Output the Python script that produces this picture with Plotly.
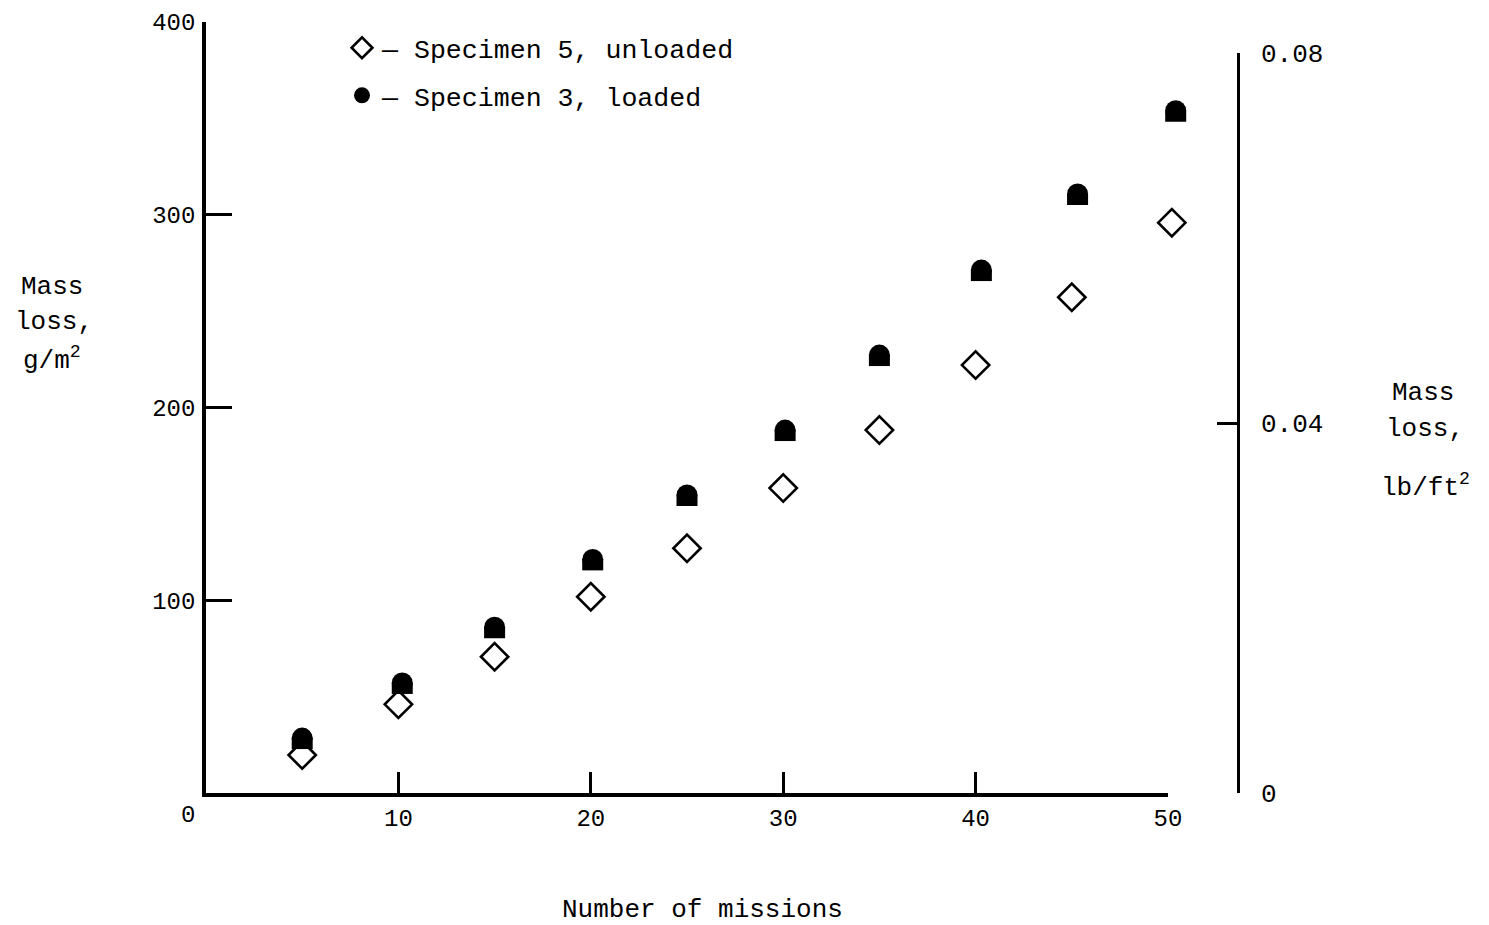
import plotly.graph_objects as go

# ---------------- data ----------------
missions_unloaded = [5, 10, 15, 20, 25, 30, 35, 40, 45, 50.2]
loss_unloaded = [19.7, 46.0, 70.7, 101.8, 127.0, 158.2, 188.3, 222.0, 257.2, 295.9]

missions_loaded = [5, 10.2, 15, 20.1, 25, 30.1, 35, 40.3, 45.3, 50.4]
loss_loaded = [28.5, 57.1, 86.0, 121.2, 154.6, 188.3, 227.2, 271.3, 310.8, 354.0]

x_tickvals = [10, 20, 30, 40, 50]
y_tickvals = [100, 200, 300, 400]
y2_tickvals = [0, 0.04, 0.08]
y2_ticktext = ["0", "0.04", "0.08"]

name_unloaded = "— Specimen 5, unloaded"
name_loaded = "— Specimen 3, loaded"

# ---------------- layout constants (pixels) ----------------
W, H = 1489, 925
PLOT_L, PLOT_R, PLOT_T, PLOT_B = 206, 1238, 22, 793
X50_PX = 1168          # pixel of x = 50 (end of the drawn x-axis)
Y2_TOP_PX = 53         # pixel of the top of the right-hand axis
L, T, R, B = PLOT_L, PLOT_T, W - PLOT_R, H - PLOT_B
PW, PH = W - L - R, H - T - B
FONT = "Liberation Mono, Courier New, monospace"
PX_PER_UNIT = PH / 400.0
DOME_SHIFT = 5.25 / PX_PER_UNIT  # shift of the dome's lower block, in data units
X_DOM = (X50_PX - PLOT_L) / PW
X2_MAX = 51.0


def px_x(px):
    return (px - PLOT_L) / PW


def px_y(py):
    return (PLOT_B - py) / PH


fig = go.Figure()

fig.add_trace(go.Scatter(
    x=missions_unloaded, y=loss_unloaded, mode="markers", name=name_unloaded,
    legendgroup="a", xaxis="x2", yaxis="y",
    marker=dict(symbol="diamond-open", size=21, color="black", line=dict(width=2.6, color="black")),
))
# loaded: dome shaped marker = round top (circle) + flat block underneath
fig.add_trace(go.Scatter(
    x=missions_loaded, y=loss_loaded, mode="markers", name=name_loaded,
    legendgroup="b", xaxis="x2", yaxis="y",
    marker=dict(symbol="circle", size=21, color="black", line=dict(width=0)),
))
fig.add_trace(go.Scatter(
    x=missions_loaded, y=loss_loaded, mode="markers", name=name_loaded,
    legendgroup="b", showlegend=False, xaxis="x2", yaxis="y3",
    marker=dict(symbol="line-ew", size=15, color="black", line=dict(width=11.5, color="black")),
))
# empty traces so the visible axes are drawn
fig.add_trace(go.Scatter(x=[], y=[], xaxis="x", yaxis="y", showlegend=False, hoverinfo="skip"))
fig.add_trace(go.Scatter(x=[], y=[], xaxis="x", yaxis="y2", showlegend=False, hoverinfo="skip"))

axis_font = dict(family=FONT, size=24, color="black")
title_font = dict(family=FONT, size=26, color="black")

annotations = []
for txt, cx, cy in [
    ("Mass", 52, 287), ("loss,", 54, 322), ("g/m<sup>2</sup>", 52, 359),
    ("Mass", 1423, 393), ("loss,", 1425, 429), ("lb/ft<sup>2</sup>", 1425, 486),
    ("Number of missions", 702, 910),
]:
    annotations.append(dict(text=txt, xref="paper", yref="paper", x=px_x(cx), y=px_y(cy),
                            xanchor="center", yanchor="middle", showarrow=False, font=title_font))
annotations.append(dict(text="0", xref="paper", yref="paper", x=px_x(188), y=px_y(816),
                        xanchor="center", yanchor="middle", showarrow=False, font=axis_font))

fig.update_layout(
    width=W, height=H,
    margin=dict(l=L, r=R, t=T, b=B, pad=0, autoexpand=False),
    paper_bgcolor="white", plot_bgcolor="rgba(0,0,0,0)",
    font=dict(family=FONT, size=26, color="black"),
    showlegend=True,
    legend=dict(
        x=px_x(342), y=px_y(24), xanchor="left", yanchor="top",
        font=dict(family=FONT, size=26.6, color="black"),
        bgcolor="rgba(0,0,0,0)", borderwidth=0,
        traceorder="grouped", tracegroupgap=10, itemsizing="trace",
    ),
    xaxis=dict(
        domain=[0, X_DOM], range=[0, 50], anchor="y",
        showline=True, linewidth=3.5, linecolor="black",
        ticks="inside", ticklen=21, tickwidth=2.5, tickcolor="black",
        tickvals=x_tickvals, tickfont=axis_font, ticklabelstandoff=0,
        showgrid=False, zeroline=False,
    ),
    xaxis2=dict(
        domain=[0, X_DOM * X2_MAX / 50.0], range=[0, X2_MAX], anchor="y",
        visible=False, showgrid=False, zeroline=False,
    ),
    yaxis=dict(
        domain=[0, 1], range=[0, 400], anchor="x",
        showline=True, linewidth=3.5, linecolor="black",
        ticks="inside", ticklen=26, tickwidth=2.5, tickcolor="black",
        tickvals=y_tickvals, tickfont=axis_font, ticklabelstandoff=2,
        showgrid=False, zeroline=False,
    ),
    yaxis2=dict(
        domain=[0, (PLOT_B - Y2_TOP_PX) / PH], range=[0, 0.08],
        anchor="free", position=1.0, side="right",
        showline=True, linewidth=2.5, linecolor="black",
        ticks="inside", ticklen=20, tickwidth=2.5, tickcolor="black",
        tickvals=y2_tickvals, ticktext=y2_ticktext,
        tickfont=dict(family=FONT, size=26, color="black"), ticklabelstandoff=16,
        showgrid=False, zeroline=False,
    ),
    yaxis3=dict(
        overlaying="y", range=[DOME_SHIFT, 400 + DOME_SHIFT], visible=False,
        showgrid=False, zeroline=False,
    ),
    annotations=annotations,
)

fig.write_html(
    "out.html",
    config={"displayModeBar": False},
    post_script="document.body.style.margin='0px';",
)
